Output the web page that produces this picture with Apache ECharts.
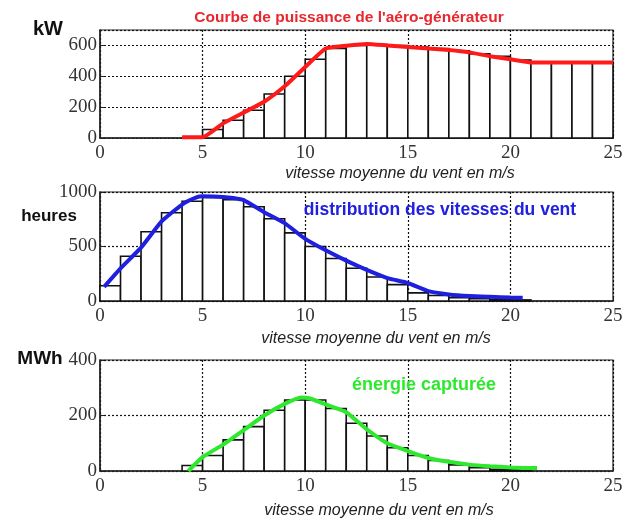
<!DOCTYPE html>
<html><head><meta charset="utf-8">
<script src="https://cdn.jsdelivr.net/npm/echarts@6/dist/echarts.min.js"></script>
<style>html,body{margin:0;padding:0;background:#fff}#c{width:628px;height:518px}</style>
</head><body><div id="c"></div>
<script>
// ---- data ----
var xTicks = [0, 5, 10, 15, 20, 25];
// panel 1: power curve (kW)
var powerBinStart = [5,6,7,8,9,10,11,12,13,14,15,16,17,18,19,20,21,22,23,24];
var powerBars     = [55,115,180,285,400,510,580,600,605,600,590,580,565,545,530,505,490,490,490,490];
var powerCurveX   = [4,5,6,7,8,9,10,11,12,13,14,15,16,17,18,19,20,21,22,23,24,25];
var powerCurveY   = [5,5,95,165,235,335,460,580,598,610,600,590,580,570,555,530,510,490,490,490,490,490];
// panel 2: wind speed distribution (hours)
var hoursBinStart = [0,1,2,3,4,5,6,7,8,9,10,11,12,13,14,15,16,17,18,19,20];
var hoursBars     = [140,410,635,810,915,950,930,865,755,625,500,390,300,220,150,75,50,30,20,12,10];
var hoursCurveX   = [0.2,1,2,3,4,4.7,5,6,6.5,7,8,9,10,11,12,13,14,15,16,17,18,19,20,20.6];
var hoursCurveY   = [130,300,490,730,885,950,960,955,945,925,815,715,570,465,370,285,210,165,90,60,45,38,32,30];
// panel 3: captured energy (MWh)
var energyBinStart = [4,5,6,7,8,9,10,11,12,13,14,15,16,17,18,19,20];
var energyBars     = [20,56,112,160,219,256,256,225,172,126,84,56,38,22,12,6,4];
var energyCurveX   = [4.3,5,6,7,8,9,9.8,10.2,11,12,13,14,15,16,17,18,19,20,21,21.3];
var energyCurveY   = [0,50,95,147,200,242,265,262,240,212,150,100,72,47,33,23,17,13,11,11];

function zip(a, b) { return a.map(function (v, i) { return [v, b[i]]; }); }

function barSeries(idx, starts, vals) {
  return {
    type: 'custom', xAxisIndex: idx, yAxisIndex: idx,
    data: zip(starts, vals),
    renderItem: function (params, api) {
      var x0 = api.value(0), v = api.value(1);
      var p0 = api.coord([x0, v]);
      var p1 = api.coord([x0 + 1, 0]);
      return {
        type: 'rect',
        shape: { x: p0[0], y: p0[1], width: p1[0] - p0[0], height: p1[1] - p0[1] },
        style: { fill: '#fff', stroke: '#111', lineWidth: 1.6 }
      };
    },
    z: 2
  };
}
function lineSeries(idx, xs, ys, color) {
  return {
    type: 'line', xAxisIndex: idx, yAxisIndex: idx,
    data: zip(xs, ys), showSymbol: false, smooth: 0.15,
    lineStyle: { color: color, width: 4 }, z: 5
  };
}

var gridTops = [30, 192, 360];
var gridHeights = [108, 109, 111];
var yMax = [700, 1000, 400];
var yInt = [200, 500, 200];

var grids = [], xAxes = [], yAxes = [];
for (var i = 0; i < 3; i++) {
  grids.push({ left: 100, right: 15, top: gridTops[i], height: gridHeights[i],
    show: true, borderColor: '#222', borderWidth: 1.2, backgroundColor: '#fff' });
  xAxes.push({
    type: 'value', gridIndex: i, min: 0, max: 25, interval: 5,
    axisLine: { show: true, lineStyle: { color: '#222', width: 1.5 } },
    axisTick: { show: true, inside: true, length: 4, lineStyle: { color: '#222' } },
    axisLabel: { color: '#333', fontFamily: 'Liberation Serif', fontSize: 19, margin: 6,
      formatter: function (v) { return String(v); } },
    splitLine: { show: true, lineStyle: { color: '#111', type: [2, 2], width: 1.2 } }
  });
  yAxes.push({
    type: 'value', gridIndex: i, min: 0, max: yMax[i], interval: yInt[i],
    axisLine: { show: true, lineStyle: { color: '#222', width: 1.5 } },
    axisTick: { show: true, inside: true, length: 4, lineStyle: { color: '#222' } },
    axisLabel: { color: '#333', fontFamily: 'Liberation Serif', fontSize: 19, margin: 3,
      showMaxLabel: i !== 0, formatter: function (v) { return String(v); } },
    splitLine: { show: true, lineStyle: { color: '#111', type: [2, 2], width: 1.2 } }
  });
}

var axisTitle = 'vitesse moyenne du vent en m/s';
var titleStyle = { fontFamily: 'Liberation Sans', fontStyle: 'italic', fontSize: 16, fill: '#222', textAlign: 'center', textVerticalAlign: 'middle' };
function txt(x, y, s, extra) {
  var st = Object.assign({}, titleStyle, { text: s }, extra || {});
  return { type: 'text', x: x, y: y, style: st, z: 10 };
}
var bold = { fontStyle: 'normal', fontWeight: 'bold' };

var option = {
  animation: false,
  backgroundColor: '#fff',
  grid: grids, xAxis: xAxes, yAxis: yAxes,
  series: [
    barSeries(0, powerBinStart, powerBars),
    lineSeries(0, powerCurveX, powerCurveY, '#ff1a1a'),
    barSeries(1, hoursBinStart, hoursBars),
    lineSeries(1, hoursCurveX, hoursCurveY, '#1f1fe0'),
    barSeries(2, energyBinStart, energyBars),
    lineSeries(2, energyCurveX, energyCurveY, '#2ee82e')
  ],
  graphic: [
    txt(349, 18, "Courbe de puissance de l'aéro-générateur", Object.assign({ fontSize: 15.5, fill: '#e8262e' }, bold)),
    txt(400, 174, axisTitle),
    txt(376, 339, axisTitle),
    txt(379, 511, axisTitle),
    txt(48, 29, 'kW', Object.assign({ fontSize: 20, fill: '#111' }, bold)),
    txt(49, 216, 'heures', Object.assign({ fontSize: 17, fill: '#111' }, bold)),
    txt(40, 359, 'MWh', Object.assign({ fontSize: 19, fill: '#111' }, bold)),
    txt(440, 210, 'distribution des vitesses du vent', Object.assign({ fontSize: 17.5, fill: '#2020e0' }, bold)),
    txt(424, 385, 'énergie capturée', Object.assign({ fontSize: 18, fill: '#2ee82e' }, bold))
  ]
};
echarts.init(document.getElementById('c'), null, { renderer: 'canvas' }).setOption(option);
</script></body></html>
